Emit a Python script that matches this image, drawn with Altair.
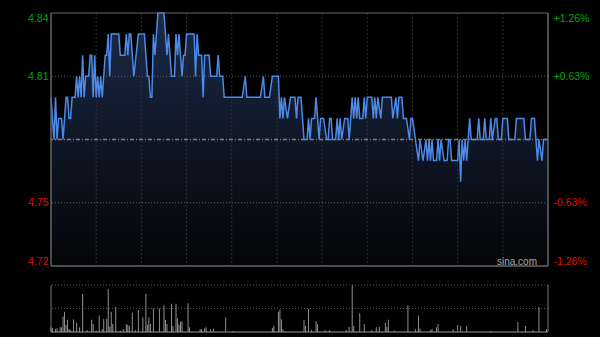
import altair as alt
import pandas as pd

# ---- data ----
prev_close = 4.78

price_minutes = [0, 2, 3, 4, 5, 7, 8, 9, 10, 11, 12, 13, 14, 16, 17, 18, 19, 20, 21, 22, 23, 25, 26, 27, 28, 29, 30,
                 31, 32, 33, 34, 36, 37, 38, 39, 40, 45, 46, 49, 50, 51, 52, 53, 55, 58, 62, 64, 65, 66, 67, 68, 69,
                 71, 75, 77, 78, 79, 80, 82, 83, 84, 85, 87, 88, 89, 90, 95, 96, 97, 98, 100, 101, 102, 105, 106,
                 110, 111, 112, 114, 115, 127, 129, 130, 139, 141, 142, 145, 147, 151, 152, 153, 154, 155, 157, 159,
                 162, 163, 164, 166, 167, 168, 170, 171, 172, 173, 175, 176, 177, 178, 179, 181, 183, 184, 185, 186,
                 187, 189, 190, 191, 192, 193, 195, 197, 198, 200, 201, 202, 203, 204, 205, 207, 208, 209, 210, 213,
                 214, 215, 216, 217, 219, 220, 226, 227, 229, 230, 231, 233, 234, 236, 238, 239, 240, 242, 244, 245,
                 247, 249, 250, 251, 252, 253, 254, 256, 257, 258, 259, 261, 263, 264, 265, 266, 270, 271, 272, 273,
                 274, 275, 276, 277, 278, 279, 283, 284, 285, 287, 288, 289, 291, 292, 293, 295, 296, 297, 299, 300,
                 303, 304, 308, 309, 314, 315, 318, 319, 321, 322, 323, 324, 326, 327, 330]
price_values = [4.80, 4.78, 4.80, 4.78, 4.79, 4.79, 4.78, 4.79, 4.80, 4.80, 4.79, 4.79, 4.80, 4.80, 4.81, 4.80, 4.81,
                4.80, 4.82, 4.80, 4.81, 4.81, 4.82, 4.82, 4.80, 4.82, 4.80,
                4.81, 4.80, 4.81, 4.80, 4.82, 4.82, 4.83, 4.81, 4.83, 4.83, 4.82, 4.82, 4.83, 4.82, 4.83, 4.83, 4.81,
                4.83, 4.83, 4.81, 4.81, 4.80, 4.80, 4.83, 4.82,
                4.84, 4.84, 4.82, 4.83, 4.82, 4.81, 4.81, 4.83, 4.82, 4.83, 4.81, 4.82, 4.82, 4.83, 4.83, 4.81, 4.83,
                4.82, 4.82, 4.80, 4.82, 4.82, 4.81,
                4.81, 4.82, 4.81, 4.81, 4.80, 4.80, 4.81, 4.80, 4.80, 4.81, 4.80, 4.80, 4.81, 4.81, 4.79, 4.80, 4.79,
                4.80, 4.79, 4.80,
                4.80, 4.79, 4.80, 4.80, 4.79, 4.78, 4.78, 4.79, 4.78, 4.79, 4.79, 4.80, 4.79, 4.78, 4.79, 4.79, 4.78,
                4.78, 4.79, 4.79,
                4.78, 4.78, 4.79, 4.78, 4.79, 4.78, 4.79, 4.79, 4.78, 4.80, 4.79, 4.80, 4.79, 4.80, 4.79, 4.79, 4.80,
                4.79, 4.80, 4.80,
                4.79, 4.80, 4.79, 4.80, 4.79, 4.80, 4.80, 4.79, 4.80, 4.79, 4.80, 4.80, 4.79, 4.79, 4.78, 4.79, 4.79,
                4.78, 4.77, 4.78,
                4.77, 4.78, 4.77, 4.78, 4.77, 4.78, 4.77, 4.77, 4.78, 4.77, 4.78, 4.77, 4.77, 4.78, 4.78, 4.77, 4.77,
                4.78, 4.76, 4.78,
                4.77, 4.78, 4.77, 4.78, 4.79, 4.78, 4.78, 4.79, 4.78, 4.78, 4.79, 4.78, 4.78, 4.79, 4.78, 4.79, 4.79,
                4.78, 4.78, 4.79,
                4.79, 4.78, 4.78, 4.79, 4.79, 4.78, 4.78, 4.79, 4.79, 4.78, 4.77, 4.78, 4.77, 4.78, 4.78]

vol_minutes = [0, 1, 3, 4, 6, 7, 8, 9, 10, 11, 12, 13, 15, 17, 19, 21, 24, 27, 28, 30, 32, 34, 35, 37, 38, 39, 40, 41,
               43, 46, 48, 50, 51, 52, 54, 56, 58, 61, 63, 64, 65, 66, 68, 72, 75, 76, 77, 80, 81, 83, 84, 85, 86, 87,
               91, 92, 99, 100, 102, 103, 106, 108, 116, 121, 147, 148, 151, 152, 153, 154, 168, 169, 171, 173, 176,
               177, 182, 185, 196, 198, 200, 201, 205, 208, 213, 216, 218, 222, 223, 224, 228, 237, 242, 244, 245,
               252, 253, 256, 257, 267, 270, 272, 276, 292, 310, 315, 320, 324, 329]
vol_values = [10, 8, 6, 8, 10, 10, 33, 43, 15, 26, 6, 4, 27, 20, 10, 81, 4, 26, 17, 3, 35, 6, 28, 28, 91, 11, 43, 17,
              53, 3, 6, 17, 15, 13, 41, 4, 47, 31, 81, 15, 31, 17, 50, 50, 57, 26, 17, 60, 13, 60, 29, 15, 22, 23,
              61, 10, 6, 6, 8, 10, 6, 7, 31, 2, 9, 13, 43, 48, 27, 6, 26, 13, 49, 4, 23,
              17, 4, 4, 4, 11, 100, 13, 40, 17, 4, 10, 11, 20, 11, 26, 3, 57, 6, 35, 7,
              4, 6, 10, 17, 6, 15, 13, 13, 2, 21, 13, 4, 53, 6]

left_ticks = [4.72, 4.75, 4.81, 4.84]
right_labels = ["-1.26%", "-0.63%", "+0.63%", "+1.26%"]
grid_minutes = [30, 60, 90, 120, 150, 180, 210, 240, 270, 300]
dotted_levels = [4.81, 4.75]
watermark = "sina.com"

# ---- geometry / styling ----
W, PH = 497, 253          # plot width, price panel height
VT, VB = 272, 319         # volume panel top / bottom (pixels in view)
FONT = "Arial, 'Liberation Sans', sans-serif"
UP, DOWN = "#00a800", "#d81400"
BORDER = "#666666"

price_df = pd.DataFrame({"m": price_minutes, "p": price_values})
vol_df = pd.DataFrame({"m": vol_minutes, "v": vol_values})
one = pd.DataFrame({"k": [0]})

x_scale = alt.Scale(domain=[0, 330], nice=False, zero=False)
p_scale = alt.Scale(domain=[4.72, 4.84], range=[PH, 0], nice=False, zero=False)
v_scale = alt.Scale(domain=[0, 100], range=[VB, VT], nice=False, zero=True)
X = alt.X("m:Q", scale=x_scale, axis=None)

label_color = {"condition": {"test": f"datum.value > {prev_close}", "value": UP}, "value": DOWN}
right_expr = " : ".join(f"abs(datum.value - {t}) < 0.001 ? '{lab}'" for t, lab in zip(left_ticks, right_labels)) + " : ''"

area = alt.Chart(price_df).mark_area(
    color=alt.Gradient(
        gradient="linear",
        stops=[alt.GradientStop(color="#1b2b48", offset=0),
               alt.GradientStop(color="#0e1524", offset=0.55),
               alt.GradientStop(color="#040507", offset=1)],
        x1=1, x2=1, y1=0, y2=1),
).encode(
    x=X,
    y=alt.Y("p:Q", scale=p_scale,
            axis=alt.Axis(orient="right", values=left_ticks, labelExpr=right_expr, domain=False, ticks=False,
                          grid=False, labelPadding=5, labelFont=FONT, labelFontSize=10.5,
                          labelColor=label_color, labelFlush=True, title=None)),
    y2=alt.datum(4.72),
)

vgrid = alt.Chart(pd.DataFrame({"m": grid_minutes})).mark_rule(
    color="#303030", strokeDash=[2, 2], strokeWidth=1
).encode(x=X, y=alt.value(0), y2=alt.value(PH))

hgrid = alt.Chart(pd.DataFrame({"lv": dotted_levels})).mark_rule(
    color="#5e5e5e", strokeDash=[1, 2], strokeWidth=1
).encode(y=alt.Y("lv:Q", scale=p_scale, axis=None))

base_rule = alt.Chart(pd.DataFrame({"lv": [prev_close]})).mark_rule(
    color="#808080", strokeDash=[4, 2, 1, 2], strokeWidth=1.5
).encode(y=alt.Y("lv:Q", scale=p_scale, axis=None))

line = alt.Chart(price_df).mark_line(color="#4d89e6", strokeWidth=1.5).encode(
    x=X,
    y=alt.Y("p:Q", scale=p_scale,
            axis=alt.Axis(orient="left", values=left_ticks, format=".2f", domain=False, ticks=False, grid=False,
                          labelPadding=3, labelFont=FONT, labelFontSize=10.5, labelColor=label_color,
                          labelFlush=True, title=None)),
)

borders = [
    alt.Chart(one).mark_rule(color=BORDER, strokeWidth=1).encode(y=alt.value(0)),
    alt.Chart(one).mark_rule(color=BORDER, strokeWidth=1.5).encode(y=alt.value(PH)),
    alt.Chart(one).mark_rule(color=BORDER, strokeWidth=1.5).encode(x=alt.value(0), y=alt.value(0), y2=alt.value(PH)),
    alt.Chart(one).mark_rule(color=BORDER, strokeWidth=1.5).encode(x=alt.value(W), y=alt.value(0), y2=alt.value(PH)),
    alt.Chart(one).mark_rule(color="#555555", strokeDash=[1, 2]).encode(y=alt.value(VT)),
    alt.Chart(one).mark_rule(color="#555555", strokeDash=[1, 2]).encode(y=alt.value((VT + VB) / 2)),
    alt.Chart(one).mark_rule(color=BORDER, strokeWidth=1.5).encode(y=alt.value(VB)),
    alt.Chart(one).mark_rule(color="#777777", strokeWidth=1).encode(x=alt.value(0), y=alt.value(VT), y2=alt.value(VB)),
    alt.Chart(one).mark_rule(color="#777777", strokeWidth=1).encode(x=alt.value(W), y=alt.value(VT), y2=alt.value(VB)),
]

vol = alt.Chart(vol_df).mark_rule(color="#909090", strokeWidth=1).encode(
    x=X, y=alt.Y("v:Q", scale=v_scale, axis=None), y2=alt.value(VB)
)

mark = alt.Chart(pd.DataFrame({"t": [watermark]})).mark_text(
    align="right", baseline="bottom", font=FONT, fontSize=10, color="#a8a8a8"
).encode(x=alt.value(486), y=alt.value(PH + 1), text="t:N")

chart = alt.layer(area, vgrid, hgrid, base_rule, line, *borders, vol, mark).resolve_scale(
    y="independent"
).properties(
    width=W, height=VB,
    background="#000000",
    padding={"left": 51, "top": 13, "right": 52, "bottom": 5},
    autosize=alt.AutoSizeParams(type="none"),
).configure_view(stroke=None)

chart.save("out.html", embed_options={"renderer": "svg", "actions": False})
